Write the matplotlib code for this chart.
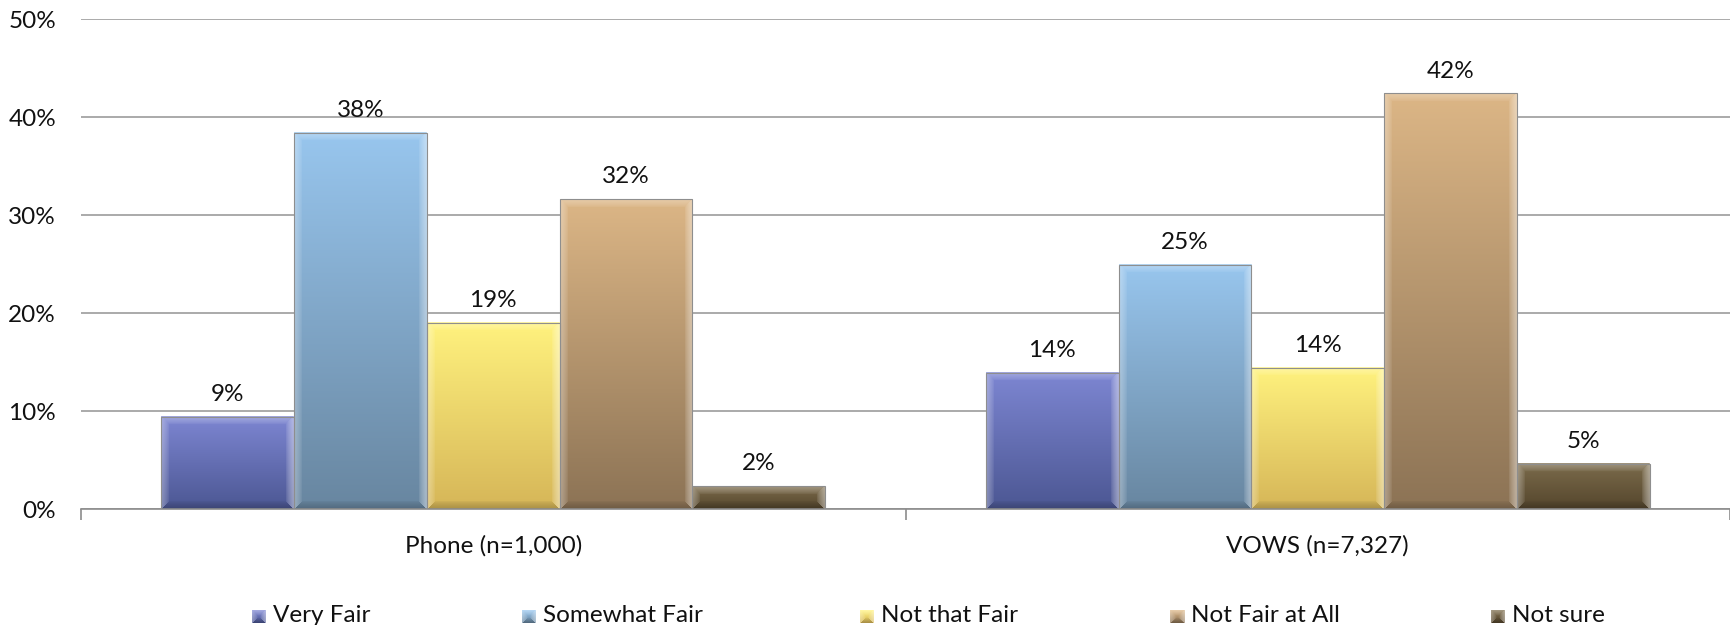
import numpy as np
import matplotlib
matplotlib.use("Agg")
import matplotlib.pyplot as plt
import matplotlib.ticker as mticker
from matplotlib.colors import to_rgb

plt.rcParams['font.family'] = ['Lato', 'DejaVu Sans']

groups = ["Phone (n=1,000)", "VOWS (n=7,327)"]
answers = ["Very Fair", "Somewhat Fair", "Not that Fair", "Not Fair at All", "Not sure"]
phone = [9.4, 38.4, 19.0, 31.6, 2.3]
vows = [13.9, 24.9, 14.4, 42.4, 4.6]
yticks = [0, 10, 20, 30, 40, 50]

# top / bottom colours of each series gradient
grad_top = ["#7d86d2", "#98c6ee", "#fff27e", "#dcb686", "#7b6b4b"]
grad_bottom = ["#4c5793", "#6886a0", "#d6b658", "#8c7355", "#55462d"]

FS = 17.5
W, H, DPI = 17.3, 6.25, 100
fig = plt.figure(figsize=(W, H), dpi=DPI)
ax = fig.add_axes([81 / 1730, 1 - 509 / 625, 1 - 81 / 1730, (509 - 19) / 625])
ax.set_xlim(-0.5, 1.5)
ax.set_ylim(0, 50)

for s in ["left", "right", "top"]:
    ax.spines[s].set_visible(False)
ax.spines["bottom"].set_color("#8c8c8c")
ax.spines["bottom"].set_linewidth(1.2)

ax.yaxis.set_major_locator(mticker.FixedLocator(yticks))
ax.yaxis.set_major_formatter(mticker.FuncFormatter(lambda v, p: f"{v:.0f}%"))
ax.tick_params(axis="y", length=0, pad=18, labelsize=FS, labelcolor="#111111")
ax.grid(axis="y", color="#9c9c9c", linewidth=1.2)
ax.set_axisbelow(True)

ax.set_xticks(range(len(groups)))
ax.set_xticklabels(groups)
ax.set_xticks([-0.5, 0.5, 1.5], minor=True)
ax.tick_params(axis="x", which="major", length=0, pad=19, labelsize=FS, labelcolor="#111111")
ax.tick_params(axis="x", which="minor", length=8, width=1.2, color="#8c8c8c", direction="out")


def bevel_image(top, bottom, w_px, h_px, b=8):
    """Vertical gradient with a soft bevelled frame, shape (h, w, 3)."""
    h_px = max(int(round(h_px)), 2)
    w_px = max(int(round(w_px)), 2)
    t = np.linspace(0, 1, h_px)[:, None, None]
    base = np.array(to_rgb(top)) * (1 - t) + np.array(to_rgb(bottom)) * t
    base = np.repeat(base, w_px, axis=1)
    yy, xx = np.mgrid[0:h_px, 0:w_px]
    dl, dr = xx, w_px - 1 - xx
    dt, db = yy, h_px - 1 - yy
    d = np.stack([dl, dr, dt, db])
    side = d.argmin(axis=0)
    dmin = d.min(axis=0)
    bb = min(b, h_px / 2.5)
    strength = np.clip(1 - dmin / bb, 0, 1) ** 0.7
    amount = np.choose(side, [0.32, 0.42, 0.28, -0.2]) * strength
    img = base.copy()
    light = amount > 0
    img[light] = img[light] + (1 - img[light]) * amount[light][:, None]
    dark = ~light
    img[dark] = img[dark] * (1 + amount[dark][:, None])
    return np.clip(img, 0, 1)


width = 0.161
x = np.arange(len(groups))
values = np.array([phone, vows])
to_px = ax.transData
for i, name in enumerate(answers):
    xs = x + (i - 2) * width
    ys = values[:, i]
    bars = ax.bar(xs, ys, width, facecolor="none", edgecolor="#8e8e8e",
                  linewidth=0.8, zorder=3, label=name)
    for bar, xv, yv in zip(bars, xs, ys):
        x0, x1 = xv - width / 2, xv + width / 2
        (p0x, p0y), (p1x, p1y) = to_px.transform([(x0, 0), (x1, yv)])
        img = bevel_image(grad_top[i], grad_bottom[i], p1x - p0x, p1y - p0y)
        ax.imshow(img, extent=(x0, x1, 0, yv), aspect="auto", zorder=2,
                  interpolation="bilinear")
        ax.annotate(f"{round(yv):d}%", (xv, yv), xytext=(0, 11.5),
                    textcoords="offset points", ha="center", va="baseline",
                    fontsize=FS, color="#111111")

ax.set_xlim(-0.5, 1.5)
ax.set_ylim(0, 50)

# legend along the bottom edge
legend_x = [252, 522, 860, 1170, 1491]
for i, name in enumerate(answers):
    mx = legend_x[i]
    max_ = fig.add_axes([mx / 1730, 1 - 623 / 625, 14 / 1730, 13 / 625])
    max_.imshow(bevel_image(grad_top[i], grad_bottom[i], 14, 13, b=6),
                aspect="auto", interpolation="bilinear")
    max_.set_axis_off()
    fig.text((mx + 21) / 1730, 1 - 615 / 625, name, ha="left", va="center",
             fontsize=FS, color="#111111")

fig.savefig("out.png", dpi=DPI)
